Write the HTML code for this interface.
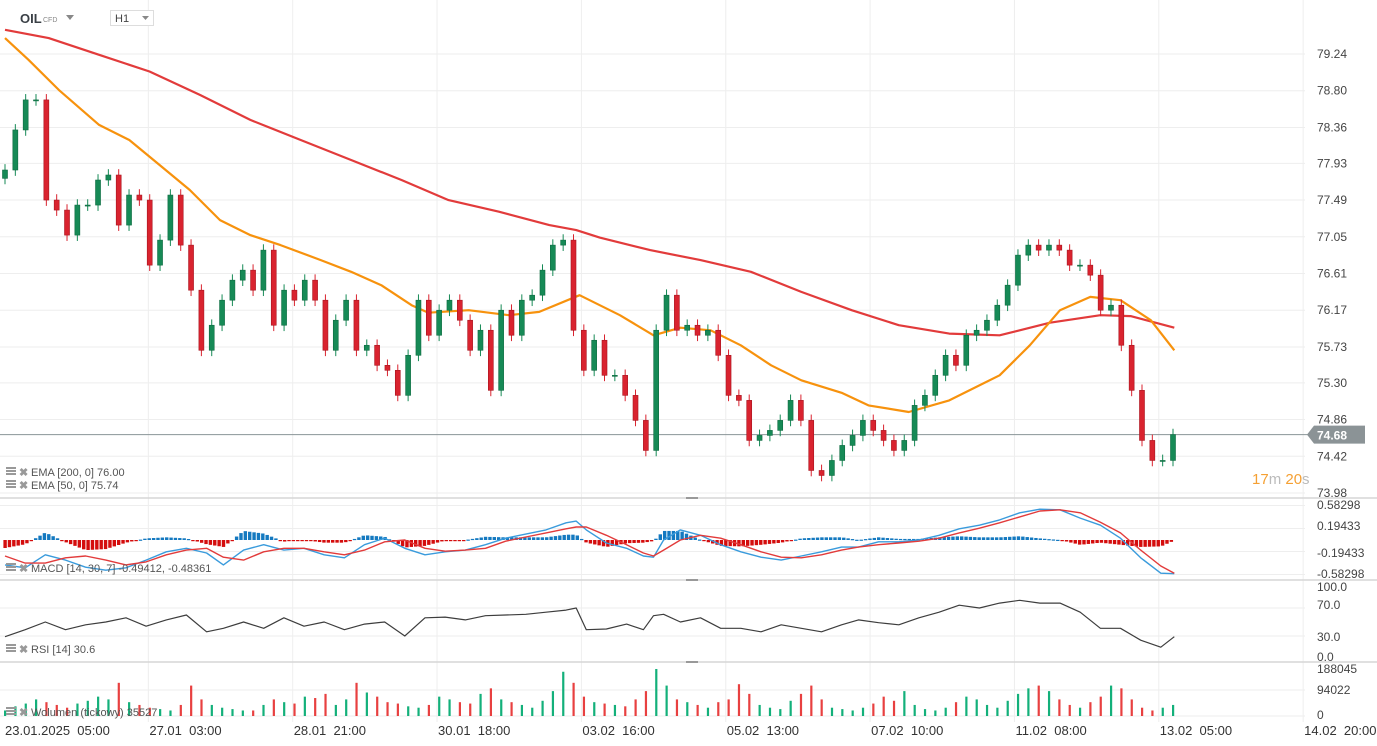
<!DOCTYPE html>
<html><head><meta charset="utf-8"><style>
html,body{margin:0;padding:0;background:#fff;width:1377px;height:746px;overflow:hidden}
svg text{font-family:"Liberation Sans",sans-serif}
</style></head><body>
<svg id="c" width="1377" height="746" viewBox="0 0 1377 746" xmlns="http://www.w3.org/2000/svg">
<g id="grid"></g>
<g id="main"></g>
<g id="macd"></g>
<g id="rsi"></g>
<g id="vol"></g>
<g id="axes"></g>
<g>
<text x="20" y="23" font-size="13" font-weight="bold" fill="#3a4046">OIL</text>
<text x="43" y="22" font-size="7" fill="#888">CFD</text>
<path d="M66 15 L74 15 L70 20 Z" fill="#888"/>
<rect x="110.5" y="10.5" width="43" height="15" fill="#fff" stroke="#ddd"/>
<text x="115" y="22" font-size="11" fill="#444">H1</text>
<path d="M142 16 L149 16 L145.5 20 Z" fill="#888"/>
</g>
</svg>
<script>
const closes=[77.85,78.33,78.69,78.69,77.49,77.37,77.07,77.43,77.43,77.73,
77.79,77.19,77.55,77.49,76.71,77.01,77.55,76.95,76.41,75.69,
75.99,76.29,76.53,76.65,76.41,76.89,75.99,76.41,76.29,76.53,
76.29,75.69,76.05,76.29,75.69,75.75,75.51,75.45,75.15,75.63,
76.29,75.87,76.17,76.29,76.05,75.69,75.93,75.21,76.17,75.87,
76.29,76.35,76.65,76.95,77.01,75.93,75.45,75.81,75.39,75.39,
75.15,74.85,74.49,75.93,76.35,75.93,75.99,75.87,75.93,75.63,
75.15,75.09,74.61,74.67,74.73,74.85,75.09,74.85,74.25,74.19,
74.37,74.55,74.67,74.85,74.73,74.61,74.49,74.61,75.03,75.15,
75.39,75.63,75.51,75.87,75.93,76.05,76.23,76.47,76.83,76.95,
76.89,76.95,76.89,76.71,76.71,76.59,76.17,76.23,75.75,75.21,
74.61,74.37,74.37,74.68];
const volumes=[20,35,45,60,50,40,30,45,55,70,60,120,50,40,30,25,20,40,110,60,40,30,25,20,20,40,60,50,45,70,65,80,40,60,120,85,70,50,45,35,30,40,70,60,50,45,80,100,60,50,40,30,55,90,160,120,70,50,45,40,35,60,90,170,110,60,50,40,30,50,60,115,80,40,30,25,55,80,110,60,30,25,20,30,45,70,55,90,40,25,20,30,50,70,60,40,30,55,80,100,110,90,60,40,30,50,70,110,100,60,30,20,30,40];
const ema200T=[0,13,28,43,58,73,88,103,118,132,147,162,170,177,192,207,222,237,252,266,281,296,311,326,335,348];
const ema200=[79.53,79.43,79.23,79.03,78.75,78.45,78.21,77.97,77.73,77.49,77.35,77.19,77.13,77.04,76.89,76.77,76.63,76.39,76.17,75.99,75.89,75.87,76.02,76.11,76.10,75.96];
const ema50T=[0,7,16,28,37,46,55,64,73,82,94,103,112,121,126,138,150,159,171,183,193,201,210,219,228,237,249,257,269,281,296,305,314,323,332,341,348];
const ema50=[79.43,79.17,78.81,78.39,78.21,77.91,77.61,77.25,77.07,76.95,76.77,76.63,76.47,76.23,76.14,76.17,76.11,76.15,76.35,76.11,75.87,75.96,75.93,75.75,75.51,75.33,75.18,75.03,74.95,75.09,75.39,75.75,76.17,76.33,76.29,76.05,75.69];
const indT=[0,6,12,18,24,30,36,42,48,54,60,65,71,77,83,89,95,101,107,113,119,125,131,137,143,149,155,161,167,170,173,179,185,190,193,196,201,207,213,219,225,231,237,243,249,254,260,266,272,278,284,290,296,302,308,314,320,326,332,338,344,348];
const macdLine=[-0.42,-0.47,-0.25,-0.34,-0.46,-0.51,-0.47,-0.34,-0.20,-0.14,-0.22,-0.42,-0.17,-0.08,-0.17,-0.14,-0.25,-0.30,-0.08,0.03,-0.14,-0.25,-0.20,-0.17,-0.08,0.03,0.10,0.17,0.29,0.32,0.17,-0.05,-0.14,-0.27,-0.29,0.00,0.17,0.08,-0.08,-0.20,-0.29,-0.34,-0.27,-0.20,-0.12,-0.12,-0.03,-0.03,0.00,0.08,0.19,0.25,0.34,0.46,0.52,0.51,0.37,0.25,0.03,-0.30,-0.56,-0.57];
const signalLine=[-0.27,-0.39,-0.39,-0.30,-0.27,-0.34,-0.42,-0.37,-0.25,-0.17,-0.14,-0.29,-0.34,-0.20,-0.14,-0.14,-0.20,-0.25,-0.17,-0.03,0.00,-0.14,-0.19,-0.17,-0.14,-0.02,0.05,0.12,0.19,0.22,0.22,0.08,-0.08,-0.22,-0.27,-0.17,0.00,0.08,0.03,-0.08,-0.20,-0.29,-0.30,-0.25,-0.17,-0.12,-0.08,-0.05,-0.02,0.03,0.12,0.20,0.29,0.39,0.49,0.51,0.46,0.30,0.12,-0.17,-0.44,-0.56];
const rsiVals=[29,39,50,39,46,50,56,44,53,60,36,41,50,41,56,44,50,39,47,50,30,56,57,53,59,60,61,64,67,70,39,40,47,39,59,61,50,56,41,41,36,46,41,36,46,53,49,46,56,64,74,70,77,81,77,77,64,41,41,24,14,29];
const priceTicks=["79.24","78.80","78.36","77.93","77.49","77.05","76.61","76.17","75.73","75.30","74.86","74.42","73.98"];
const macdTicks=["0.58298","0.19433","-0.19433","-0.58298"];
const rsiTicks=["100.0","70.0","30.0","0.0"];
const volTicks=["188045","94022","0"];
const timeLabels=["23.01.2025  05:00","27.01  03:00","28.01  21:00","30.01  18:00","03.02  16:00","05.02  13:00","07.02  10:00","11.02  08:00","13.02  05:00","14.02  20:00"];
const lastPrice=74.68;

const NS="http://www.w3.org/2000/svg";
function mk(tag,attrs,parent){const e=document.createElementNS(NS,tag);for(const k in attrs)e.setAttribute(k,attrs[k]);parent.appendChild(e);return e;}
const g=id=>document.getElementById(id);
const xH=h=>5+h*3.36;
const N=closes.length;
const xI=i=>5+i*1168/(N-1);
const yP=p=>54+(79.24-p)*83.46;
const yM=v=>540-v*59.2;
const yR=v=>657-v*0.7;
const yV=v=>716-v*1000*26/94022;

const grid=g('grid');
for(let k=0;k<priceTicks.length;k++){const y=yP(parseFloat(priceTicks[k]));const l=mk('line',{x1:0,x2:1305,y1:y,y2:y,stroke:'#eeeeee'},grid);}
[-0.58298,-0.19433,0.19433,0.58298].forEach(v=>{const l=mk('line',{x1:0,x2:1305,y1:yM(v),y2:yM(v),stroke:'#eeeeee'},grid);});
[70,30].forEach(v=>{const l=mk('line',{x1:0,x2:1305,y1:yR(v),y2:yR(v),stroke:'#eeeeee'},grid);});
[94.022,0].forEach(v=>{const l=mk('line',{x1:0,x2:1305,y1:yV(v),y2:yV(v),stroke:'#eeeeee'},grid);});
for(let k=1;k<timeLabels.length;k++){const x=4+k*144.35;const l=mk('line',{x1:x,x2:x,y1:0,y2:722,stroke:'#eeeeee'},grid);}
[498,580,662].forEach(y=>{const l=mk('line',{x1:0,x2:1377,y1:y,y2:y,stroke:'#d6d6d6','stroke-width':1.5},grid);
const d=mk('rect',{x:686,y:y-1,width:12,height:2,fill:'#999'},grid);});

const main=g('main');
function poly(T,V,fx,fy,color,w,parent,name){const pts=T.map((t,i)=>fx(t).toFixed(1)+','+fy(V[i]).toFixed(1)).join(' ');const e=mk('polyline',{points:pts,fill:'none',stroke:color,'stroke-width':w,'stroke-linejoin':'round'},parent);return e;}
poly(ema200T,ema200,xH,yP,'#e23b3b',2.2,main,'ema-200-line');
poly(ema50T,ema50,xH,yP,'#f7920d',2.2,main,'ema-50-line');
const lp=mk('line',{x1:0,x2:1310,y1:yP(lastPrice),y2:yP(lastPrice),stroke:'#8a9497','stroke-width':1},main);

for(let i=0;i<N;i++){const c=closes[i];const o=i>0?closes[i-1]:c-0.1;const up=c>=o;const x=xI(i);
const hi=Math.max(o,c)+0.07,lo=Math.min(o,c)-0.07;const col=up?'#168a56':'#d9232f';
const w=mk('line',{x1:x,x2:x,y1:yP(hi),y2:yP(lo),stroke:col,'stroke-width':1},main);
const top=yP(Math.max(o,c)),h=Math.max(1,yP(Math.min(o,c))-top);
const b=mk('rect',{x:x-2.5,y:top,width:5,height:h,fill:col,stroke:up?'#0e6b41':'#a8151f','stroke-width':0.6},main);}

// MACD histogram: interpolate (macd - signal) at dense positions
const macd=g('macd');
function interp(T,V,t){if(t<=T[0])return V[0];for(let k=1;k<T.length;k++){if(t<=T[k]){const f=(t-T[k-1])/(T[k]-T[k-1]);return V[k-1]+f*(V[k]-V[k-1]);}}return V[V.length-1];}
for(let t=0;t<=348;t+=1.3){const h=interp(indT,macdLine,t)-interp(indT,signalLine,t);const y0=yM(0),y1=yM(h*0.9);
const r=mk('rect',{x:xH(t)-1.6,y:Math.min(y0,y1),width:3.4,height:Math.max(1.2,Math.abs(y1-y0)),fill:h>=0?'#1479c0':'#d40d0d'},macd);}
poly(indT,macdLine,xH,yM,'#3a9bdc',1.4,macd,'macd-line');
poly(indT,signalLine,xH,yM,'#e23b3b',1.4,macd,'macd-signal-line');
const rsi=g('rsi');
poly(indT,rsiVals,xH,yR,'#3d3d3d',1.2,rsi,'rsi-line');
const vol=g('vol');
for(let i=0;i<N;i++){const up=i===0||closes[i]>=closes[i-1];const x=xI(i);
const r=mk('rect',{x:x-1,y:yV(volumes[i]),width:2.2,height:716-yV(volumes[i]),fill:up?'#13b07a':'#e84040'},vol);}

const ax=g('axes');
function txt(x,y,s,size,fill,name,anchor){const t=mk('text',{x:x,y:y,'font-size':size,fill:fill,'text-anchor':anchor||'start'},ax);t.textContent=s;return t;}
priceTicks.forEach(s=>txt(1317,yP(parseFloat(s))+4,s,12,'#444','price-tick-label'));
const macdY=[505,526,553,574];macdTicks.forEach((s,k)=>txt(1317,macdY[k]+4,s,12,'#444','macd-tick-label'));
const rsiY=[587,605,637,657];rsiTicks.forEach((s,k)=>txt(1317,rsiY[k]+4,s,12,'#444','rsi-tick-label'));
const volY=[669,690,715];volTicks.forEach((s,k)=>txt(1317,volY[k]+4,s,12,'#444','volume-tick-label'));
timeLabels.forEach((s,k)=>{const t=txt(5+k*144.35,735,s,13,'#333','time-tick-label');t.style.whiteSpace='pre';});
const ly=yP(lastPrice);
const tag=mk('path',{d:`M1307 ${ly} L1314 ${ly-9} L1365 ${ly-9} L1365 ${ly+9} L1314 ${ly+9} Z`,fill:'#8b9396'},ax);

const tt=txt(1317,ly+5,lastPrice.toFixed(2),12,'#fff','last-price-value');tt.setAttribute('font-weight','bold');
const tm=mk('text',{x:1252,y:484,'font-size':15},ax);
tm.innerHTML='<tspan fill="#f5a033">17</tspan><tspan fill="#bbb">m </tspan><tspan fill="#f5a033">20</tspan><tspan fill="#bbb">s</tspan>';
function legend(y,s,name){const ic=mk('g',{},ax);
mk('rect',{x:6,y:y-8,width:10,height:2,fill:'#999'},ic);mk('rect',{x:6,y:y-5,width:10,height:2,fill:'#999'},ic);mk('rect',{x:6,y:y-2,width:10,height:2,fill:'#999'},ic);
const x=mk('text',{x:19,y:y+1,'font-size':11,fill:'#999','font-weight':'bold'},ic);x.textContent='✖';
txt(31,y+1,s,11,'#555',name);}
legend(475,'EMA [200, 0] 76.00','ema200-legend');
legend(488,'EMA [50, 0] 75.74','ema50-legend');
legend(571,'MACD [14, 30, 7] -0.49412, -0.48361','macd-legend');
legend(652,'RSI [14] 30.6','rsi-legend');
legend(715,'Wolumen (tickowy) 35527','volume-legend');
</script>
</body></html>
